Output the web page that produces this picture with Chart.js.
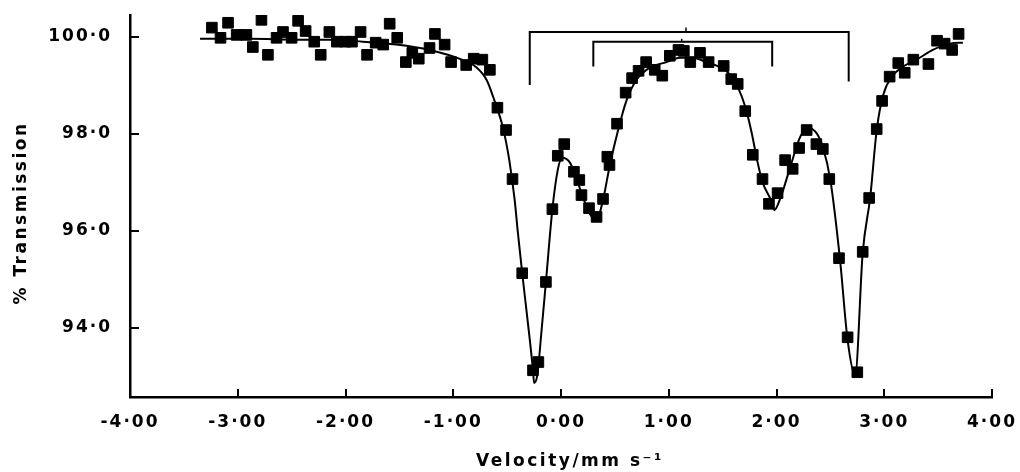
<!DOCTYPE html>
<html><head><meta charset="utf-8">
<script src="https://cdn.jsdelivr.net/npm/chart.js@4.4.0/dist/chart.umd.min.js"></script>
<style>html,body{margin:0;padding:0;background:#fff}#wrap{width:1020px;height:472px;position:relative}</style>
</head><body><div id="wrap"><canvas id="c" width="1020" height="472"></canvas></div>
<script>
// Measured spectrum points (velocity in mm/s, % transmission)
const velocity = [-3.24,-3.16,-3.09,-3.01,-2.92,-2.86,-2.78,-2.72,-2.64,-2.58,-2.50,-2.44,-2.37,-2.29,-2.23,-2.15,-2.08,-2.00,-1.94,-1.86,-1.80,-1.72,-1.65,-1.59,-1.52,-1.44,-1.38,-1.32,-1.22,-1.17,-1.08,-1.02,-0.88,-0.81,-0.73,-0.66,-0.59,-0.51,-0.45,-0.36,-0.26,-0.21,-0.14,-0.08,-0.03,0.03,0.12,0.17,0.19,0.26,0.33,0.39,0.43,0.45,0.52,0.60,0.66,0.72,0.79,0.87,0.94,1.01,1.09,1.14,1.20,1.29,1.37,1.51,1.58,1.64,1.71,1.78,1.87,1.93,2.01,2.08,2.15,2.21,2.28,2.37,2.43,2.49,2.58,2.66,2.75,2.80,2.86,2.93,2.98,3.05,3.13,3.19,3.27,3.41,3.49,3.56,3.63,3.69];
const transmission = [100.19,99.98,100.29,100.04,100.04,99.79,100.35,99.63,99.98,100.10,99.98,100.33,100.12,99.90,99.63,100.10,99.90,99.90,99.90,100.10,99.63,99.88,99.84,100.27,99.98,99.48,99.67,99.55,99.77,100.06,99.84,99.48,99.42,99.55,99.53,99.32,98.54,98.08,97.07,95.13,93.13,93.30,94.95,96.45,97.55,97.79,97.22,97.05,96.74,96.47,96.29,96.66,97.53,97.36,98.21,98.85,99.15,99.30,99.48,99.32,99.20,99.61,99.73,99.71,99.48,99.67,99.48,99.40,99.13,99.03,98.47,97.57,97.07,96.56,96.78,97.46,97.28,97.71,98.08,97.79,97.69,97.07,95.44,93.81,93.09,95.57,96.68,98.10,98.68,99.18,99.46,99.26,99.53,99.44,99.92,99.86,99.73,100.06];

// Fitted curve
const fitVelocity = [-3.35,-2.89,-2.43,-2.15,-1.84,-1.53,-1.22,-0.92,-0.79,-0.69,-0.62,-0.54,-0.48,-0.43,-0.40,-0.36,-0.31,-0.26,-0.25,-0.22,-0.18,-0.14,-0.08,-0.03,0.01,0.08,0.14,0.19,0.24,0.28,0.33,0.39,0.45,0.53,0.61,0.70,0.82,0.98,1.10,1.22,1.35,1.47,1.57,1.64,1.71,1.77,1.82,1.87,1.96,1.98,2.03,2.12,2.22,2.29,2.37,2.43,2.50,2.59,2.66,2.73,2.80,2.87,2.93,2.99,3.07,3.17,3.30,3.45,3.61,3.73];
const fitTransmission = [99.96,99.96,99.94,99.94,99.90,99.84,99.73,99.53,99.38,99.11,98.70,98.14,97.46,96.64,95.96,95.13,94.16,93.13,92.87,93.03,93.96,94.95,96.45,97.26,97.51,97.42,97.11,96.78,96.49,96.31,96.23,96.64,97.32,98.08,98.70,99.11,99.36,99.48,99.57,99.57,99.48,99.38,99.22,98.97,98.56,98.02,97.46,97.01,96.58,96.43,96.64,97.26,97.94,98.12,98.02,97.73,97.05,95.40,93.75,93.03,95.55,96.70,98.08,98.80,99.18,99.38,99.53,99.73,99.86,99.88];

// Doublet brackets
const outerBracketV = [-0.29,-0.29,2.67,2.67];
const outerBracketT = [99.01,100.10,100.10,99.08];
const innerBracketV = [0.30,0.30,1.96,1.96];
const innerBracketT = [99.39,99.90,99.90,99.39];
const outerMarkV = [1.16,1.16];
const outerMarkT = [100.10,100.19];
const innerMarkV = [1.12,1.12];
const innerMarkT = [99.90,99.96];

// Tick labels
const xTicks = [-4,-3,-2,-1,0,1,2,3,4];
const yTicks = [94,96,98,100];
const xTitle = 'Velocity/mm s\u207B\u00B9';
const yTitle = '% Transmission';

const pts = (vs, ts) => vs.map((v, i) => ({x: v, y: ts[i]}));
const FONT = '"DejaVu Sans", sans-serif';
const SPACING = '2px';

const fmtX = v => (v < 0 ? '-' : '') + Math.abs(v).toFixed(2).replace('.', '\u00B7');
const fmtY = v => v.toFixed(1).replace('.', '\u00B7');

const extras = {
  id: 'extras',
  beforeLayout(chart){ chart.ctx.letterSpacing = SPACING; },
  beforeDraw(chart){ chart.ctx.letterSpacing = SPACING; },
  afterDraw(chart){
    const {ctx, chartArea: a, scales: {x, y}} = chart;
    ctx.save();
    ctx.strokeStyle = '#000';
    ctx.lineWidth = 2;
    xTicks.forEach(v => {
      const p = Math.round(x.getPixelForValue(v));
      ctx.beginPath(); ctx.moveTo(p, a.bottom); ctx.lineTo(p, a.bottom - 8); ctx.stroke();
    });
    yTicks.forEach(v => {
      const p = Math.round(y.getPixelForValue(v));
      ctx.beginPath(); ctx.moveTo(a.left, p); ctx.lineTo(a.left + 9, p); ctx.stroke();
    });
    ctx.fillStyle = '#000';
    ctx.font = 'bold 17px ' + FONT;
    ctx.letterSpacing = '2.5px';
    ctx.textAlign = 'center';
    ctx.textBaseline = 'middle';
    ctx.fillText(xTitle, 570, 462);
    ctx.translate(22, 213);
    ctx.rotate(-Math.PI / 2);
    ctx.fillText(yTitle, 0, 0);
    ctx.restore();
  }
};

const lineDs = (data, w) => ({type: 'line', data, borderColor: '#000', borderWidth: w, pointRadius: 0, tension: 0, fill: false, showLine: true});

new Chart(document.getElementById('c'), {
  type: 'scatter',
  data: {
    datasets: [
      {type: 'scatter', data: pts(velocity, transmission), pointStyle: 'rect', pointRadius: 7.5, backgroundColor: '#000', borderColor: '#000', borderWidth: 1, showLine: false},
      Object.assign(lineDs(pts(fitVelocity, fitTransmission), 2), {cubicInterpolationMode: 'monotone'}),
      lineDs(pts(outerBracketV, outerBracketT), 2),
      lineDs(pts(innerBracketV, innerBracketT), 2),
      lineDs(pts(outerMarkV, outerMarkT), 1.5),
      lineDs(pts(innerMarkV, innerMarkT), 1.5)
    ]
  },
  options: {
    responsive: false,
    animation: false,
    devicePixelRatio: 1,
    layout: {padding: {top: 15, right: 28, left: 0, bottom: 0}},
    plugins: {legend: {display: false}, tooltip: {enabled: false}},
    scales: {
      x: {
        type: 'linear', min: -4, max: 4,
        afterBuildTicks: s => { s.ticks = xTicks.map(v => ({value: v})); },
        afterFit: s => { s.height = 75; s.paddingLeft = 0; s.paddingRight = 0; },
        ticks: {callback: v => fmtX(v), color: '#000', font: {size: 17, family: FONT, weight: 'bold'}, padding: 15, maxRotation: 0, autoSkip: false},
        grid: {drawOnChartArea: false, drawTicks: false, display: true, color: '#000'},
        border: {display: true, color: '#000', width: 2.5}
      },
      y: {
        type: 'linear', min: 92.58, max: 100.45,
        afterBuildTicks: s => { s.ticks = yTicks.map(v => ({value: v})); },
        afterFit: s => { s.width = 130; s.paddingTop = 0; s.paddingBottom = 0; },
        ticks: {callback: v => fmtY(v), color: '#000', font: {size: 17, family: FONT, weight: 'bold'}, padding: 18},
        grid: {drawOnChartArea: false, drawTicks: false, display: true, color: '#000'},
        border: {display: true, color: '#000', width: 2.5}
      }
    }
  },
  plugins: [extras]
});
</script>
</body></html>
